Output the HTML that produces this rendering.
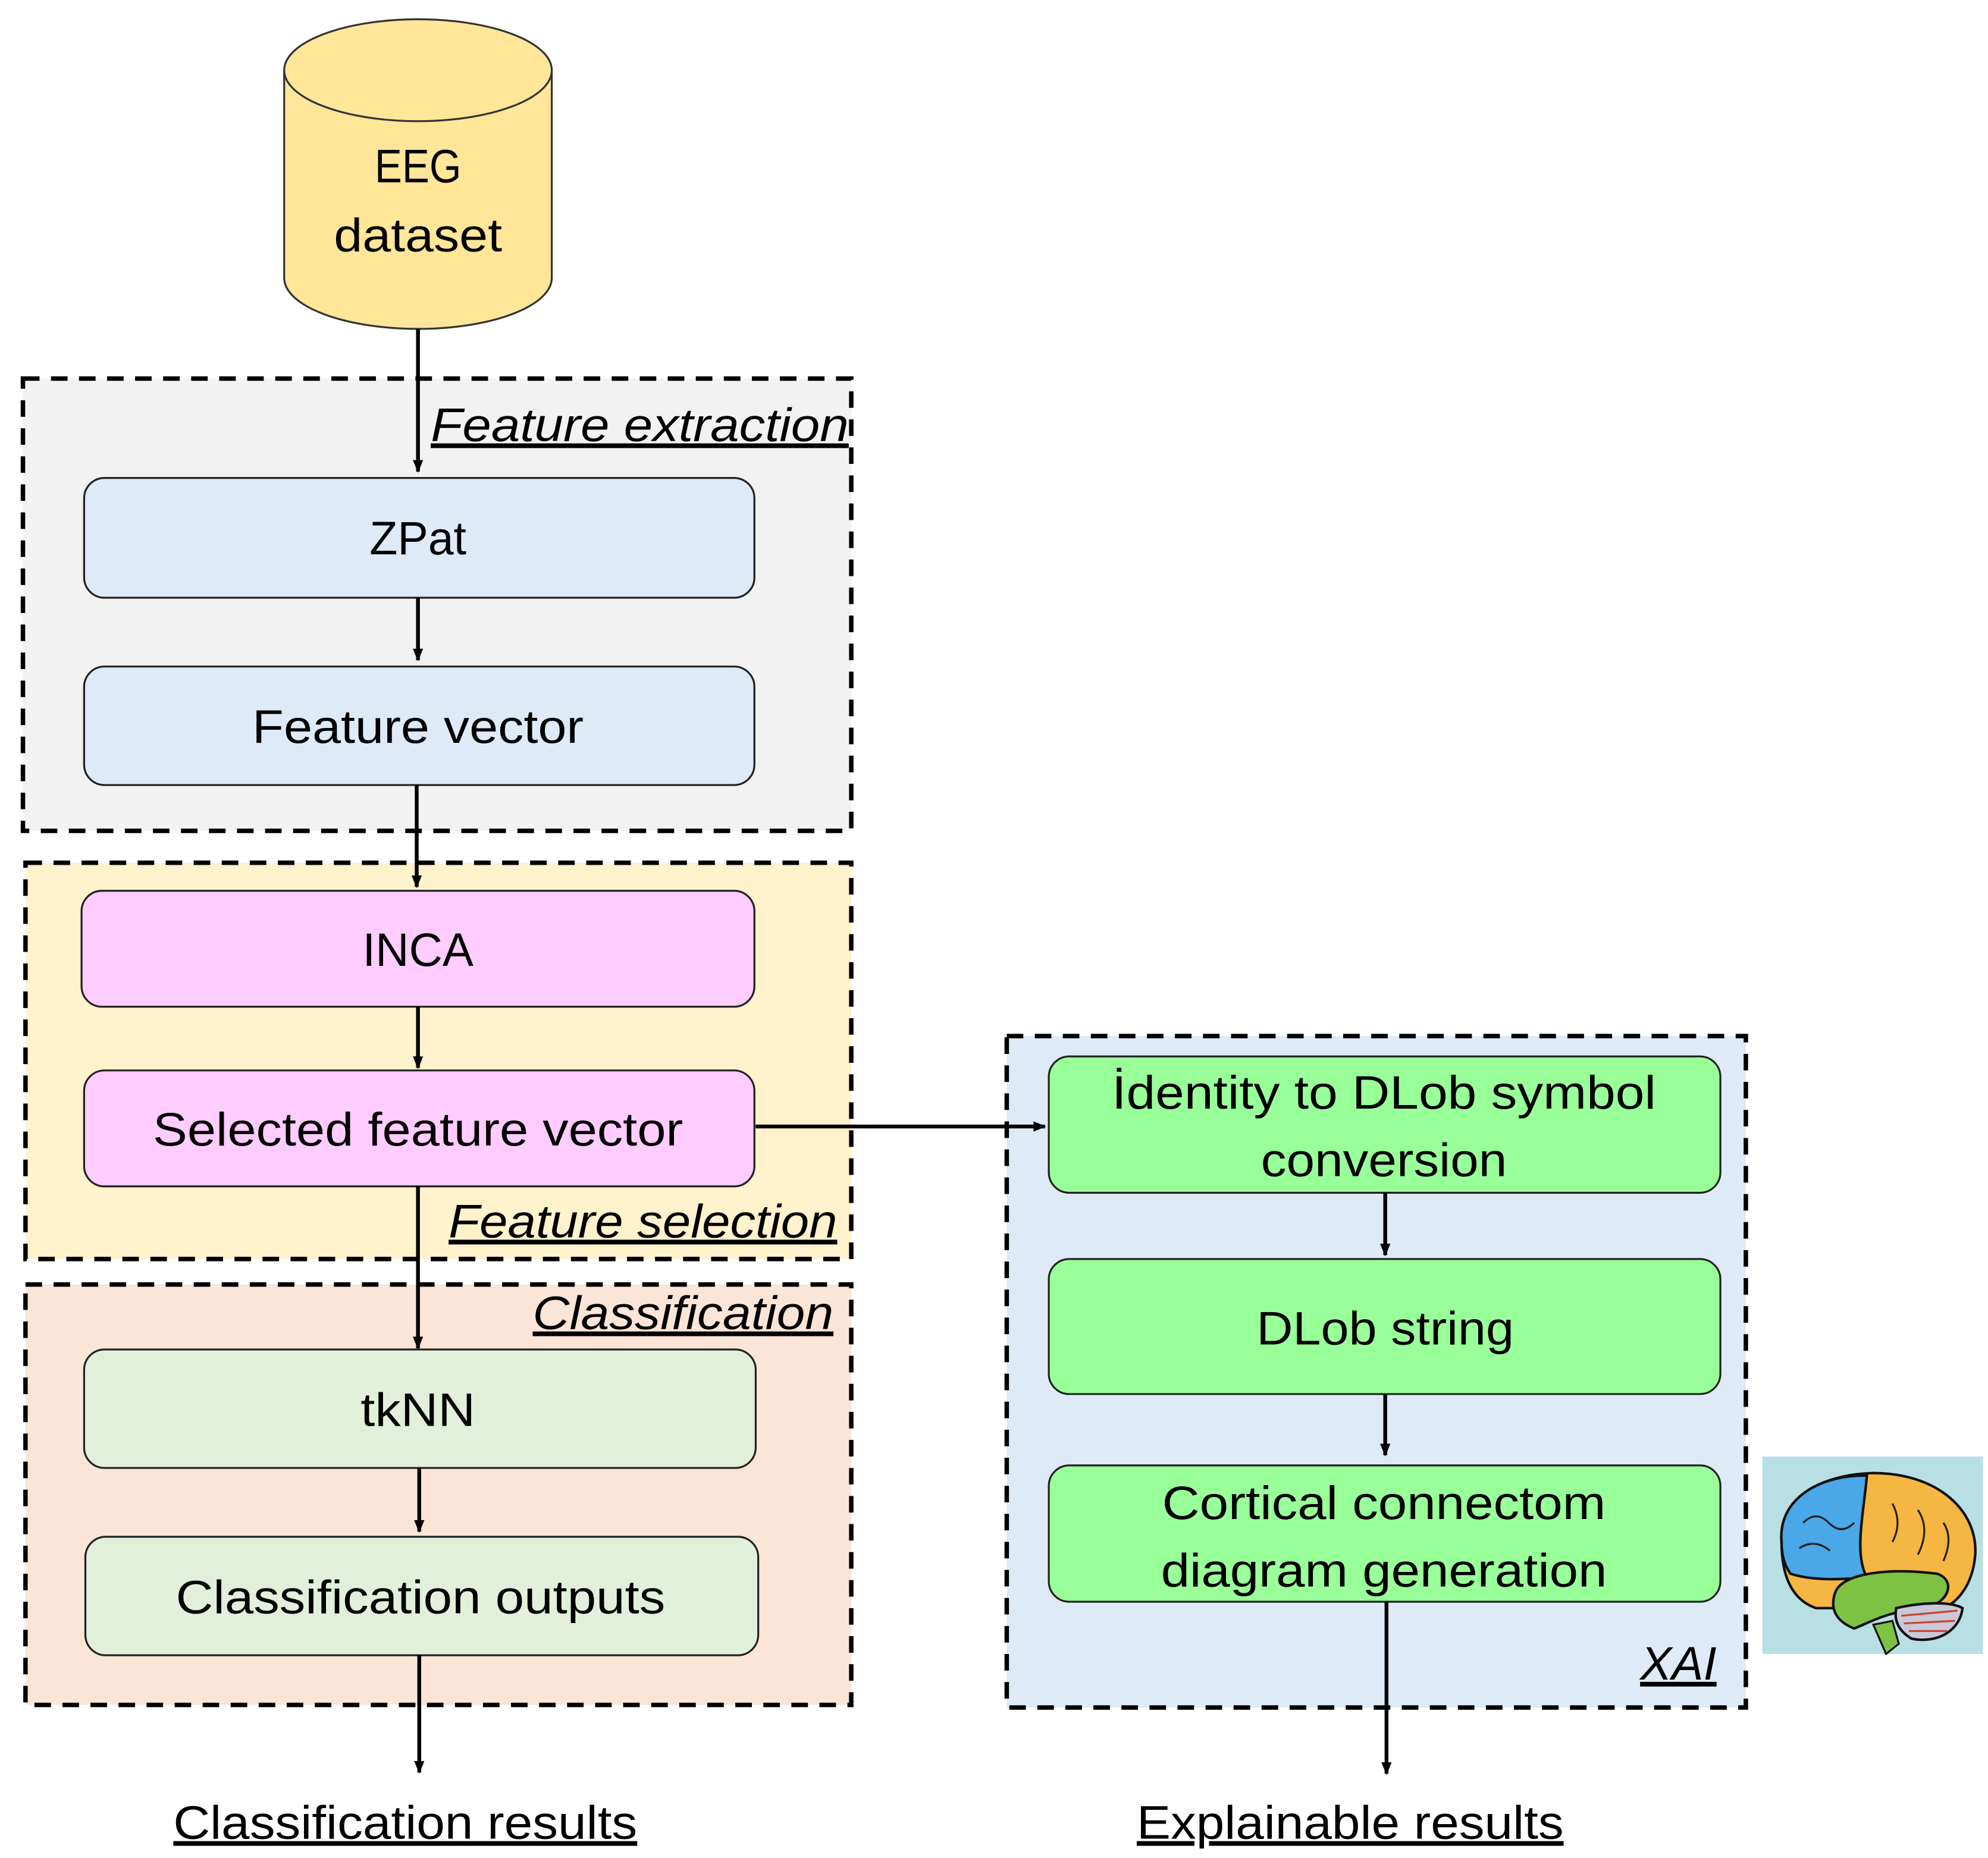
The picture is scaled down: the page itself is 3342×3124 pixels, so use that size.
<!DOCTYPE html>
<html><head><meta charset="utf-8"><style>
html,body{margin:0;padding:0;background:#fff;}
svg{display:block;}
text{font-family:"Liberation Sans","DejaVu Sans",sans-serif;fill:#000;}
</style></head><body>
<svg width="3342" height="3124" viewBox="0 0 1560 1458" xmlns="http://www.w3.org/2000/svg">
<defs>
<marker id="ah" markerWidth="10" markerHeight="10" refX="9" refY="5" orient="auto" markerUnits="userSpaceOnUse">
<path d="M0,1 L10,5 L0,9 z" fill="#000"/>
</marker>
</defs>
<rect width="1560" height="1458" fill="#fff"/>

<!-- Cylinder -->
<path d="M223,55 L223,218 A105,40 0 0 0 433,218 L433,55" fill="#FFE699" stroke="#333" stroke-width="1.5"/>
<ellipse cx="328" cy="55" rx="105" ry="40" fill="#FFE699" stroke="#333" stroke-width="1.5"/>
<g font-size="37" text-anchor="middle" lengthAdjust="spacingAndGlyphs">
<text x="328" y="143" textLength="68" lengthAdjust="spacingAndGlyphs">EEG</text>
<text x="328" y="197" textLength="132" lengthAdjust="spacingAndGlyphs">dataset</text>
</g>

<!-- Groups -->
<rect x="18" y="297" width="650" height="355" fill="#F2F2F2" stroke="#000" stroke-width="3.5" stroke-dasharray="13,9"/>
<rect x="20" y="677" width="648" height="311" fill="#FFF2CC" stroke="#000" stroke-width="3.5" stroke-dasharray="13,9"/>
<rect x="20" y="1008" width="648" height="330" fill="#FBE5D6" stroke="#000" stroke-width="3.5" stroke-dasharray="13,9"/>
<rect x="790" y="813" width="580" height="527" fill="#DEEAF6" stroke="#000" stroke-width="3.5" stroke-dasharray="13,9"/>

<!-- Group labels -->
<g font-size="37" font-style="italic" text-decoration="underline">
<text x="338" y="346" textLength="328" lengthAdjust="spacingAndGlyphs">Feature extraction</text>
<text x="352" y="971" textLength="305" lengthAdjust="spacingAndGlyphs">Feature selection</text>
<text x="418" y="1043" textLength="236" lengthAdjust="spacingAndGlyphs">Classification</text>
<text x="1287" y="1318" textLength="60" lengthAdjust="spacingAndGlyphs">XAI</text>
</g>

<!-- Boxes -->
<g stroke="#222" stroke-width="1.5">
<rect x="66" y="375" width="526" height="94" rx="16" fill="#DEEAF6"/>
<rect x="66" y="523" width="526" height="93" rx="16" fill="#DEEAF6"/>
<rect x="64" y="699" width="528" height="91" rx="16" fill="#FFCCFF"/>
<rect x="66" y="840" width="526" height="91" rx="16" fill="#FFCCFF"/>
<rect x="66" y="1059" width="527" height="93" rx="16" fill="#E2EFDA"/>
<rect x="67" y="1206" width="528" height="93" rx="16" fill="#E2EFDA"/>
<rect x="823" y="829" width="527" height="107" rx="16" fill="#99FF99"/>
<rect x="823" y="988" width="527" height="106" rx="16" fill="#99FF99"/>
<rect x="823" y="1150" width="527" height="107" rx="16" fill="#99FF99"/>
</g>
<g font-size="37" text-anchor="middle">
<text x="328" y="435" textLength="76" lengthAdjust="spacingAndGlyphs">ZPat</text>
<text x="328" y="583" textLength="260" lengthAdjust="spacingAndGlyphs">Feature vector</text>
<text x="328" y="758" textLength="87" lengthAdjust="spacingAndGlyphs">INCA</text>
<text x="328" y="899" textLength="416" lengthAdjust="spacingAndGlyphs">Selected feature vector</text>
<text x="328" y="1119" textLength="90" lengthAdjust="spacingAndGlyphs">tkNN</text>
<text x="330" y="1266" textLength="384" lengthAdjust="spacingAndGlyphs">Classification outputs</text>
<text x="1086" y="870" textLength="427" lengthAdjust="spacingAndGlyphs">İdentity to DLob symbol</text>
<text x="1086" y="923" textLength="193" lengthAdjust="spacingAndGlyphs">conversion</text>
<text x="1087" y="1055" textLength="202" lengthAdjust="spacingAndGlyphs">DLob string</text>
<text x="1086" y="1192" textLength="348" lengthAdjust="spacingAndGlyphs">Cortical connectom</text>
<text x="1086" y="1245" textLength="350" lengthAdjust="spacingAndGlyphs">diagram generation</text>
</g>

<!-- Arrows -->
<g stroke="#000" stroke-width="3" marker-end="url(#ah)">
<line x1="328" y1="258" x2="328" y2="370"/>
<line x1="328" y1="469" x2="328" y2="518"/>
<line x1="327" y1="616" x2="327" y2="696"/>
<line x1="328" y1="790" x2="328" y2="838"/>
<line x1="328" y1="931" x2="328" y2="1058"/>
<line x1="329" y1="1152" x2="329" y2="1202"/>
<line x1="329" y1="1299" x2="329" y2="1391"/>
<line x1="593" y1="884" x2="820" y2="884"/>
<line x1="1087" y1="936" x2="1087" y2="985"/>
<line x1="1087" y1="1094" x2="1087" y2="1142"/>
<line x1="1088" y1="1257" x2="1088" y2="1392"/>
</g>

<!-- Results -->
<g font-size="37" text-decoration="underline">
<text x="136" y="1443" textLength="364" lengthAdjust="spacingAndGlyphs">Classification results</text>
<text x="892" y="1443" textLength="335" lengthAdjust="spacingAndGlyphs">Explainable results</text>
</g>

<!-- Brain -->
<rect x="1383" y="1143" width="173" height="155" fill="#B8E0E4"/>
<path d="M1398,1210 C1395,1175 1430,1157 1470,1156 C1520,1156 1552,1185 1550,1220 C1548,1245 1535,1258 1525,1262 L1425,1262 C1405,1255 1398,1235 1398,1210 z" fill="#F5B642" stroke="#111" stroke-width="2"/>
<path d="M1398,1210 C1395,1175 1430,1157 1465,1158 C1462,1190 1455,1220 1465,1238 C1440,1240 1420,1240 1405,1235 C1400,1228 1398,1220 1398,1210 z" fill="#4AA7E8" stroke="#111" stroke-width="2"/>
<path d="M1440,1250 C1445,1235 1480,1230 1520,1235 C1535,1240 1530,1258 1510,1262 C1480,1265 1470,1272 1455,1278 C1440,1272 1436,1262 1440,1250 z" fill="#7DC242" stroke="#111" stroke-width="2"/>
<path d="M1488,1262 C1505,1258 1530,1256 1540,1262 C1538,1280 1520,1290 1500,1286 C1490,1280 1486,1272 1488,1262 z" fill="#C8C8D8" stroke="#111" stroke-width="2"/>
<path d="M1492,1268 L1536,1264 M1494,1274 L1534,1272 M1498,1280 L1528,1280" stroke="#D04030" stroke-width="1.5"/>
<path d="M1470,1275 L1480,1298 L1490,1290 L1485,1272 z" fill="#7DC242" stroke="#111" stroke-width="1.5"/>
<path d="M1415,1195 q10,-10 20,0 t20,0 M1412,1215 q12,-8 24,2 M1485,1180 q8,15 0,30 M1505,1185 q10,15 0,35 M1525,1195 q8,12 0,30" stroke="#222" stroke-width="1.5" fill="none"/>
</svg>
</body></html>
